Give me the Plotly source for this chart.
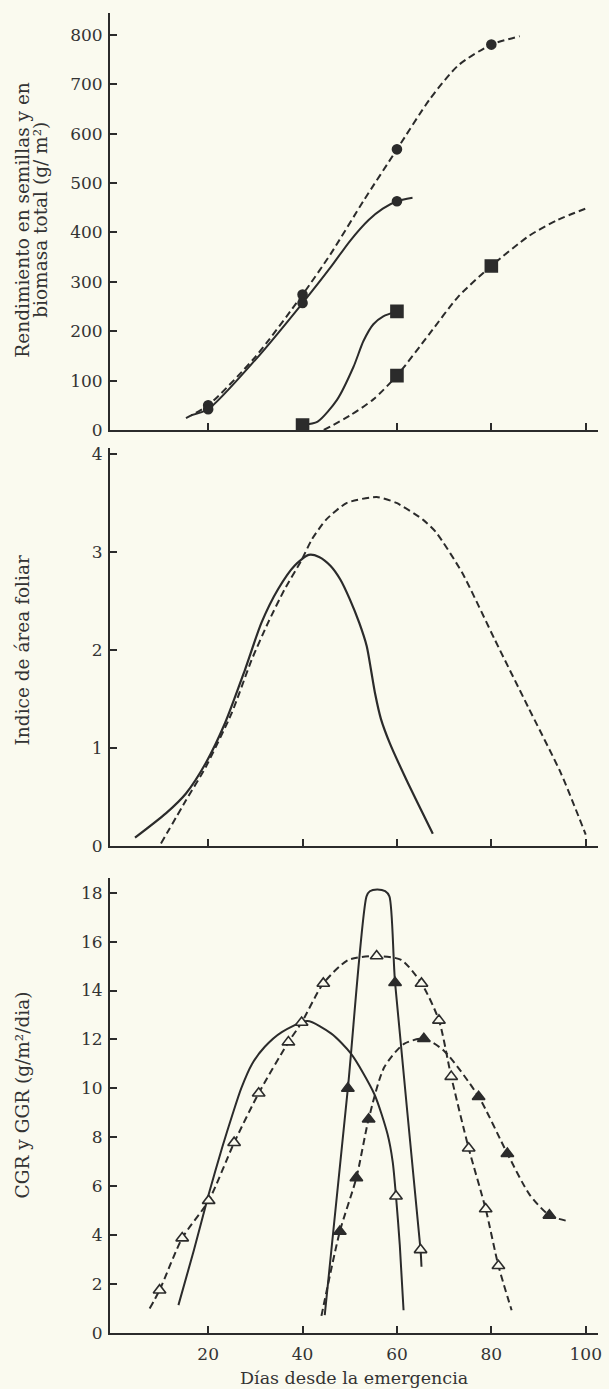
import plotly.graph_objects as go

# ---------------- Panel 1: seed yield and total biomass (g/m2) ----------------
bio_dash_days = [20, 40, 60, 80]
bio_dash_vals = [50, 274, 568, 780]
bio_dash_curve_x = [15.3, 20, 30, 40, 46, 53, 60, 67, 73, 80, 86]
bio_dash_curve_y = [24, 50, 148, 274, 357, 465, 568, 670, 738, 780, 797]

bio_solid_days = [20, 40, 60]
bio_solid_vals = [42, 257, 463]
bio_solid_curve_x = [16.4, 20, 30, 40, 46, 50, 54, 57, 60, 63.3]
bio_solid_curve_y = [30, 42, 142, 257, 330, 382, 425, 448, 463, 470]

seed_solid_days = [40, 60]
seed_solid_vals = [10, 240]
seed_solid_curve_x = [40, 43.2, 47.3, 50.8, 52.9, 55, 57.1, 60]
seed_solid_curve_y = [10, 17, 61, 128, 180, 214, 230, 240]

seed_dash_days = [60, 80]
seed_dash_vals = [110, 332]
seed_dash_curve_x = [44.5, 50, 55, 60, 67, 73, 80, 88, 94, 100.5]
seed_dash_curve_y = [0, 29, 62, 110, 196, 270, 332, 393, 425, 450]

# ---------------- Panel 2: leaf area index ----------------
lai_solid_x = [4.5, 11.1, 15.3, 19.5, 23.6, 27.8, 31.3, 34.8, 38.3, 41.3, 43.5,
               45.9, 48.0, 50.0, 52.0, 53.6, 54.5, 55.4, 56.6, 58.5, 62.0, 67.6]
lai_solid_y = [0.09, 0.34, 0.54, 0.85, 1.26, 1.80, 2.28, 2.62, 2.86, 2.97, 2.95,
               2.86, 2.72, 2.52, 2.28, 2.04, 1.80, 1.55, 1.30, 1.05, 0.68, 0.13]
lai_dash_x = [10.0, 15.3, 19.5, 25.0, 29.2, 32.7, 36.2, 39.7, 42.0, 45.0, 49.4,
              55.7, 59.9, 65.5, 68.3, 73.8, 80.8, 87.8, 94.8, 100.0]
lai_dash_y = [0.03, 0.47, 0.81, 1.36, 1.90, 2.28, 2.62, 2.91, 3.13, 3.33, 3.50,
              3.56, 3.50, 3.33, 3.20, 2.79, 2.10, 1.42, 0.74, 0.12]

# ---------------- Panel 3: CGR and GGR (g/m2/dia) ----------------
cgr_dash_days = [9.7, 14.5, 20.1, 25.5, 30.7, 37.0, 39.8, 44.4, 55.7, 65.2, 68.9,
                 71.5, 75.2, 78.8, 81.5]
cgr_dash_vals = [1.75, 3.88, 5.41, 7.78, 9.80, 11.89, 12.69, 14.29, 15.41, 14.29,
                 12.78, 10.48, 7.55, 5.07, 2.75]
cgr_dash_curve_x = [7.6, 9.7, 14.5, 20.1, 25.5, 30.7, 37.0, 39.8, 44.4, 49.7, 55.7,
                    60.9, 65.2, 68.9, 71.5, 75.2, 78.8, 81.5, 84.3]
cgr_dash_curve_y = [1.0, 1.75, 3.88, 5.41, 7.78, 9.80, 11.89, 12.69, 14.29, 15.25,
                    15.41, 15.25, 14.29, 12.78, 10.48, 7.55, 5.07, 2.75, 0.93]

cgr_solid_days = [59.8]
cgr_solid_vals = [5.59]
cgr_solid_curve_x = [13.7, 17, 20.1, 23, 25.1, 27, 29.3, 32, 35.6, 41, 46.1, 50.3,
                     55.2, 58.0, 59.1, 59.8, 60.6, 61.4]
cgr_solid_curve_y = [1.14, 3.4, 5.66, 7.6, 8.9, 10.0, 11.0, 11.7, 12.3, 12.75, 12.24,
                     11.41, 9.77, 8.13, 7.0, 5.59, 3.6, 0.93]

ggr_solid_days = [49.6, 59.6]
ggr_solid_vals = [10.0, 14.32]
ggr_solid_open_days = [65.0]
ggr_solid_open_vals = [3.4]
ggr_solid_curve_x = [44.7, 49.6, 53.55, 54.25, 55.8, 57.5, 58.4, 59.6, 65.0, 65.2]
ggr_solid_curve_y = [0.73, 10.0, 17.85, 18.06, 18.13, 18.06, 17.85, 14.32, 3.4, 2.71]

ggr_dash_days = [47.9, 51.4, 54.0, 65.7, 77.3, 83.4, 92.3]
ggr_dash_vals = [4.15, 6.34, 8.74, 12.03, 9.66, 7.33, 4.81]
ggr_dash_curve_x = [44.0, 47.9, 51.4, 54.0, 57.3, 61.5, 65.7, 69.9, 77.3, 83.4, 88.1,
                    92.3, 96.5]
ggr_dash_curve_y = [0.7, 4.15, 6.34, 8.74, 10.86, 11.82, 12.03, 11.55, 9.66, 7.33,
                    5.66, 4.81, 4.56]

x_ticks = [20, 40, 60, 80, 100]

BG = "#fafaef"
INK = "#2b2b2b"
TXT = "#333333"
FONT = "DejaVu Serif"
DASH = "7px,4px"

fig = go.Figure()


def curve(x, y, xa, ya, dash=None, width=2, smooth=0.7):
    fig.add_trace(go.Scatter(x=x, y=y, xaxis=xa, yaxis=ya, mode="lines",
                             line=dict(color=INK, width=width, dash=dash,
                                       shape="spline", smoothing=smooth),
                             hoverinfo="skip", showlegend=False, cliponaxis=False))


def marks(x, y, xa, ya, symbol, size, fill=INK):
    fig.add_trace(go.Scatter(x=x, y=y, xaxis=xa, yaxis=ya, mode="markers",
                             marker=dict(symbol=symbol, size=size, color=fill,
                                         line=dict(color=INK, width=1.6)),
                             showlegend=False, cliponaxis=False))


# panel 1
curve(bio_dash_curve_x, bio_dash_curve_y, "x", "y", DASH)
curve(bio_solid_curve_x, bio_solid_curve_y, "x", "y")
curve(seed_solid_curve_x, seed_solid_curve_y, "x", "y")
curve(seed_dash_curve_x, seed_dash_curve_y, "x", "y", DASH)
marks(bio_dash_days, bio_dash_vals, "x", "y", "circle", 9)
marks(bio_solid_days, bio_solid_vals, "x", "y", "circle", 9)
marks(seed_solid_days, seed_solid_vals, "x", "y", "square", 12)
marks(seed_dash_days, seed_dash_vals, "x", "y", "square", 12)

# panel 2
curve(lai_solid_x, lai_solid_y, "x2", "y2", None, 2.2)
curve(lai_dash_x, lai_dash_y, "x2", "y2", DASH, 2, 0.6)

# panel 3
curve(cgr_dash_curve_x, cgr_dash_curve_y, "x3", "y3", DASH)
curve(cgr_solid_curve_x, cgr_solid_curve_y, "x3", "y3")
curve(ggr_solid_curve_x, ggr_solid_curve_y, "x3", "y3")
curve(ggr_dash_curve_x, ggr_dash_curve_y, "x3", "y3", DASH)
marks(cgr_dash_days, cgr_dash_vals, "x3", "y3", "triangle-up", 11, BG)
marks(cgr_solid_days, cgr_solid_vals, "x3", "y3", "triangle-up", 11, BG)
marks(ggr_solid_open_days, ggr_solid_open_vals, "x3", "y3", "triangle-up", 11, BG)
marks(ggr_solid_days, ggr_solid_vals, "x3", "y3", "triangle-up", 11)
marks(ggr_dash_days, ggr_dash_vals, "x3", "y3", "triangle-up", 11)

axis_common = dict(showline=True, linecolor=INK, linewidth=2, ticks="inside",
                   ticklen=7, tickwidth=2, tickcolor=INK, showgrid=False,
                   zeroline=False, tickfont=dict(family=FONT, size=17, color=TXT))

xr = [-0.8, 102.6]
fig.update_layout(
    width=609, height=1389,
    paper_bgcolor=BG, plot_bgcolor=BG,
    margin=dict(l=110, r=7, t=13, b=56),
    font=dict(family=FONT, color=TXT),
    xaxis=dict(domain=[0, 1], anchor="y", range=xr, tickvals=x_ticks,
               showticklabels=False, **axis_common),
    yaxis=dict(domain=[0.6841, 1.0], anchor="x", range=[0, 844],
               tickvals=[0, 100, 200, 300, 400, 500, 600, 700, 800],
               ticklabelstandoff=2, **axis_common),
    xaxis2=dict(domain=[0, 1], anchor="y2", range=xr, tickvals=x_ticks,
                showticklabels=False, **axis_common),
    yaxis2=dict(domain=[0.3686, 0.6705], anchor="x2", range=[0, 4.06],
                tickvals=[0, 1, 2, 3, 4], ticklabelstandoff=2, **axis_common),
    xaxis3=dict(domain=[0, 1], anchor="y3", range=xr, tickvals=x_ticks,
                ticklabelstandoff=5, **axis_common),
    yaxis3=dict(domain=[0, 0.3447], anchor="x3", range=[0, 18.6],
                tickvals=list(range(0, 19, 2)), ticklabelstandoff=2, **axis_common),
)

title_font = dict(family=FONT, size=18.5, color=TXT)
fig.add_annotation(text="Rendimiento en semillas y en",
                   xref="paper", yref="paper", x=-0.1795, y=0.843, textangle=-90,
                   showarrow=False, xanchor="center", yanchor="middle", font=title_font)
fig.add_annotation(text="biomasa total (g/ m²)",
                   xref="paper", yref="paper", x=-0.1423, y=0.843, textangle=-90,
                   showarrow=False, xanchor="center", yanchor="middle", font=title_font)
fig.add_annotation(text="Indice de área foliar", xref="paper", yref="paper",
                   x=-0.1795, y=0.5174, textangle=-90, showarrow=False,
                   xanchor="center", yanchor="middle", font=title_font)
fig.add_annotation(text="CGR y GGR (g/m²/dia)", xref="paper", yref="paper",
                   x=-0.1795, y=0.1803, textangle=-90, showarrow=False,
                   xanchor="center", yanchor="middle", font=title_font)
fig.add_annotation(text="Días desde la emergencia", xref="paper", yref="paper",
                   x=0.5, y=-0.0341, showarrow=False, xanchor="center",
                   yanchor="middle", font=dict(family=FONT, size=17.5, color=TXT))

# remove the default 8px page margin so the 609x1389 figure fills the window exactly
fig.write_html("out.html",
               config={"displayModeBar": False},
               post_script="document.body.style.margin='0px';"
                           "document.documentElement.style.overflow='hidden';")
